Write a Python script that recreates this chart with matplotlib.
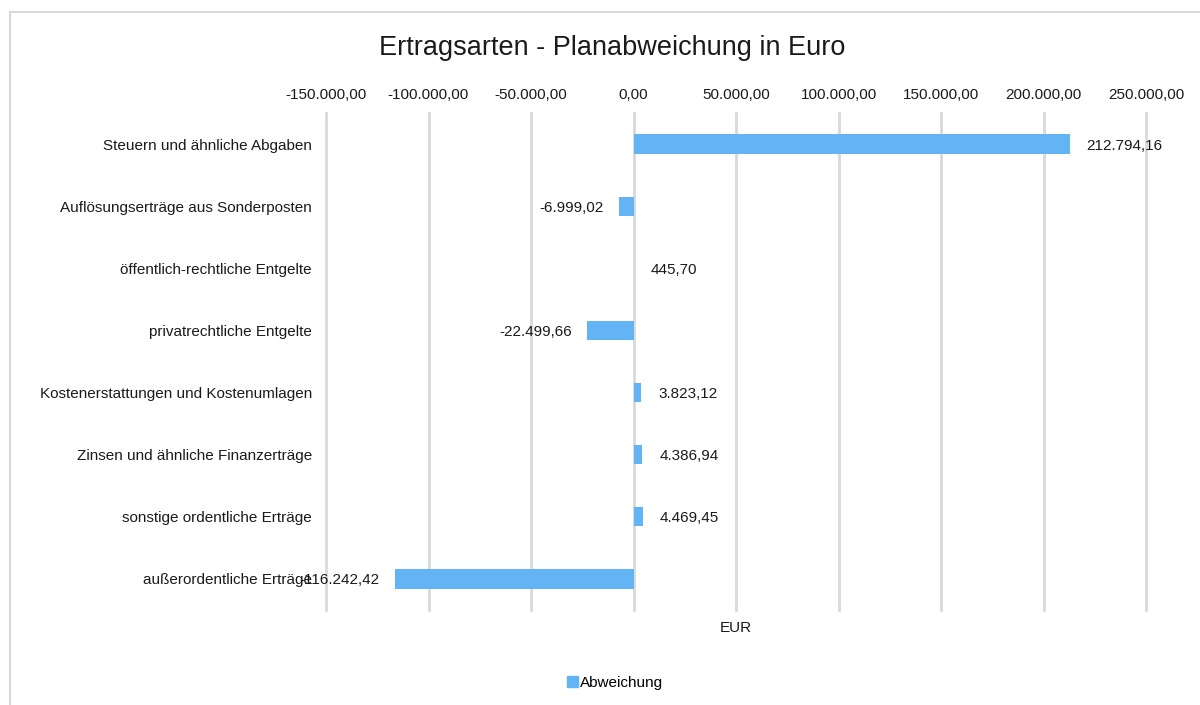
import matplotlib
matplotlib.use("Agg")
import matplotlib.pyplot as plt
from matplotlib.patches import Rectangle

plt.rcParams["font.family"] = ["Liberation Sans", "DejaVu Sans"]

categories = [
    "Steuern und ähnliche Abgaben",
    "Auflösungserträge aus Sonderposten",
    "öffentlich-rechtliche Entgelte",
    "privatrechtliche Entgelte",
    "Kostenerstattungen und Kostenumlagen",
    "Zinsen und ähnliche Finanzerträge",
    "sonstige ordentliche Erträge",
    "außerordentliche Erträge",
]
abweichung = [212794.16, -6999.02, 445.70, -22499.66, 3823.12, 4386.94, 4469.45, -116242.42]
x_ticks = [-150000, -100000, -50000, 0, 50000, 100000, 150000, 200000, 250000]

BAR_COLOR = "#63B4F5"
GRID_COLOR = "#D9D9D9"


def de_format(v):
    """German number format: 212794.16 -> 212.794,16"""
    s = f"{abs(v):,.2f}".replace(",", "X").replace(".", ",").replace("X", ".")
    return ("-" if v < 0 else "") + s


fig = plt.figure(figsize=(12, 7.05), dpi=100)
ax = fig.add_axes([326 / 1200, 1 - 610 / 705, 820 / 1200, 497 / 705])

# light frame around the chart area
fig.patches.append(Rectangle((10 / 1200, -0.01), 1.0, 1 - 12 / 705 + 0.01,
                             transform=fig.transFigure, fill=False,
                             edgecolor="#D9D9D9", linewidth=1.5))

y = list(range(len(categories)))
ax.barh(y, abweichung, height=0.31, color=BAR_COLOR, zorder=3)

for yi, v in zip(y, abweichung):
    if v >= 0:
        ax.annotate(de_format(v), (v, yi), xytext=(12, 0), textcoords="offset points",
                    ha="left", va="center_baseline", fontsize=11, color="#1a1a1a", zorder=4)
    else:
        ax.annotate(de_format(v), (v, yi), xytext=(-11, 0), textcoords="offset points",
                    ha="right", va="center_baseline", fontsize=11, color="#1a1a1a", zorder=4)

ax.set_xlim(-150000, 250000)
ax.set_ylim(len(categories) - 0.5, -0.5)
ax.set_xticks(x_ticks)
ax.set_xticklabels([de_format(t) for t in x_ticks])
ax.xaxis.tick_top()
ax.tick_params(axis="x", length=0, pad=8, labelsize=11, colors="#1a1a1a")
ax.set_yticks(y)
ax.set_yticklabels(categories)
ax.tick_params(axis="y", length=0, pad=10, labelsize=11, colors="#1a1a1a")
ax.grid(axis="x", color=GRID_COLOR, linewidth=2, zorder=0)
for gl in ax.get_xgridlines():
    gl.set_clip_on(False)
ax.set_axisbelow(True)
for side in ax.spines.values():
    side.set_visible(False)

ax.set_xlabel("EUR", fontsize=11, color="#1a1a1a", labelpad=8)

fig.text(612 / 1200, 1 - 48 / 705, "Ertragsarten - Planabweichung in Euro",
         ha="center", va="center", fontsize=19.5, color="#1a1a1a")

handle = Rectangle((0, 0), 1, 1, color=BAR_COLOR)
fig.legend([handle], ["Abweichung"], loc="center", bbox_to_anchor=(615 / 1200, 1 - 683 / 705),
           frameon=False, fontsize=11, handlelength=0.7, handleheight=0.7, handletextpad=0.1)

fig.savefig("out.png", dpi=100)
